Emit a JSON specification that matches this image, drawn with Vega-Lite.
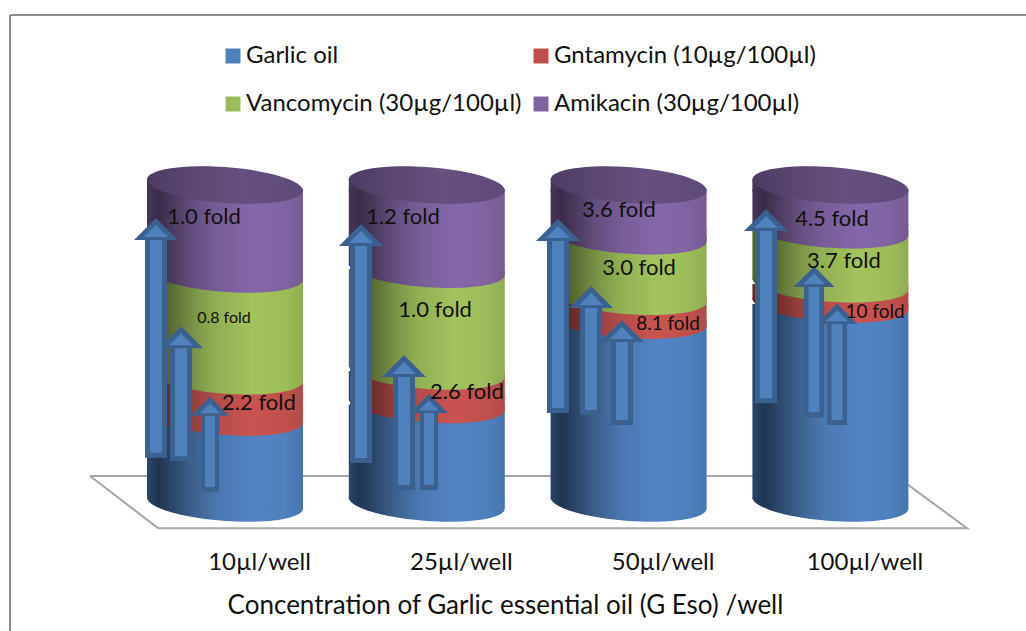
{
  "$schema": "https://vega.github.io/schema/vega-lite/v6.json",
  "width": 1016,
  "height": 616,
  "autosize": "none",
  "padding": {"left": 10, "top": 15, "right": 0, "bottom": 0},
  "background": "white",
  "config": {"view": {"stroke": null}, "font": "Lato"},
  "datasets": {
    "segments": [
      {"pos": 1, "agent": "Garlic oil", "stackOrder": 1, "share": 27},
      {"pos": 1, "agent": "Gntamycin (10µg/100µl)", "stackOrder": 2, "share": 13},
      {"pos": 1, "agent": "Vancomycin (30µg/100µl)", "stackOrder": 3, "share": 32},
      {"pos": 1, "agent": "Amikacin (30µg/100µl)", "stackOrder": 4, "share": 28},
      {"pos": 2, "agent": "Garlic oil", "stackOrder": 1, "share": 31},
      {"pos": 2, "agent": "Gntamycin (10µg/100µl)", "stackOrder": 2, "share": 10.5},
      {"pos": 2, "agent": "Vancomycin (30µg/100µl)", "stackOrder": 3, "share": 32},
      {"pos": 2, "agent": "Amikacin (30µg/100µl)", "stackOrder": 4, "share": 26.5},
      {"pos": 3, "agent": "Garlic oil", "stackOrder": 1, "share": 57.5},
      {"pos": 3, "agent": "Gntamycin (10µg/100µl)", "stackOrder": 2, "share": 7.5},
      {"pos": 3, "agent": "Vancomycin (30µg/100µl)", "stackOrder": 3, "share": 19},
      {"pos": 3, "agent": "Amikacin (30µg/100µl)", "stackOrder": 4, "share": 16},
      {"pos": 4, "agent": "Garlic oil", "stackOrder": 1, "share": 62.6},
      {"pos": 4, "agent": "Gntamycin (10µg/100µl)", "stackOrder": 2, "share": 6.3},
      {"pos": 4, "agent": "Vancomycin (30µg/100µl)", "stackOrder": 3, "share": 17},
      {"pos": 4, "agent": "Amikacin (30µg/100µl)", "stackOrder": 4, "share": 14.1}
    ],
    "arrows": [
      {"pos": 0.926, "from": 3.5, "to": 27.4, "kind": "narrow"},
      {"pos": 0.782, "from": 13.2, "to": 48.7, "kind": "wide"},
      {"pos": 0.658, "from": 14.2, "to": 82.7, "kind": "wide"},
      {"pos": 2.011, "from": 4.1, "to": 28.3, "kind": "narrow"},
      {"pos": 1.887, "from": 4.1, "to": 39.6, "kind": "wide"},
      {"pos": 1.674, "from": 12.6, "to": 80.8, "kind": "wide"},
      {"pos": 2.967, "from": 24.5, "to": 50.6, "kind": "wide"},
      {"pos": 2.814, "from": 27.7, "to": 61.3, "kind": "wide"},
      {"pos": 2.65, "from": 28.3, "to": 82.4, "kind": "wide"},
      {"pos": 4.033, "from": 24.5, "to": 56.3, "kind": "mid"},
      {"pos": 3.919, "from": 27, "to": 67.9, "kind": "mid"},
      {"pos": 3.681, "from": 31.4, "to": 85.5, "kind": "wide"}
    ],
    "foldLabels": [
      {"pos": 0.896, "level": 89.9, "label": "1.0 fold"},
      {"pos": 0.995, "level": 58.2, "label": "0.8 fold"},
      {"pos": 1.168, "level": 31.4, "label": "2.2 fold"},
      {"pos": 1.882, "level": 89.9, "label": "1.2 fold"},
      {"pos": 2.041, "level": 60.7, "label": "1.0 fold"},
      {"pos": 2.199, "level": 34.9, "label": "2.6 fold"},
      {"pos": 2.952, "level": 92.1, "label": "3.6 fold"},
      {"pos": 3.052, "level": 73.9, "label": "3.0 fold"},
      {"pos": 3.195, "level": 56.3, "label": "8.1 fold"},
      {"pos": 4.008, "level": 89.3, "label": "4.5 fold"},
      {"pos": 4.067, "level": 76.1, "label": "3.7 fold"},
      {"pos": 4.221, "level": 60.1, "label": "10 fold"}
    ],
    "floor": [
      {"vertex": 1, "pos": 0.331, "level": 8.5},
      {"vertex": 2, "pos": 0.668, "level": -7.9},
      {"vertex": 3, "pos": 4.677, "level": -7.9},
      {"vertex": 4, "pos": 4.325, "level": 8.5},
      {"vertex": 5, "pos": 0.331, "level": 8.5}
    ]
  },
  "encoding": {
    "x": {
      "field": "pos",
      "type": "quantitative",
      "scale": {"domain": [-0.0654, 4.9693], "nice": false, "zero": false, "padding": 0},
      "axis": {
        "orient": "bottom",
        "offset": -80,
        "values": [1, 2, 3, 4],
        "domain": false,
        "ticks": false,
        "grid": false,
        "labelExpr": "datum.value === 1 ? '10µl/well' : datum.value === 2 ? '25µl/well' : datum.value === 3 ? '50µl/well' : '100µl/well'",
        "labelFont": "Lato",
        "labelFontSize": 24,
        "labelColor": "#111111",
        "labelOffset": 34,
        "labelPadding": -1,
        "title": "Concentration of Garlic essential oil (G Eso) /well",
        "titleFont": "Lato",
        "titleFontSize": 26,
        "titleFontWeight": "normal",
        "titleColor": "#111111",
        "titleX": 495,
        "titleY": 54,
        "titleBaseline": "middle"
      }
    },
    "y": {"field": "level", "type": "quantitative", "scale": {"domain": [-40.25, 153.46], "nice": false, "zero": false}, "axis": null}
  },
  "layer": [
    {
      "data": {"name": "floor"},
      "mark": {"type": "line", "stroke": "#a6a6a6", "strokeWidth": 2},
      "encoding": {"order": {"field": "vertex", "type": "quantitative"}}
    },
    {
      "data": {"name": "floor"},
      "mark": {"type": "rule", "stroke": "#8c8c8c", "strokeWidth": 2},
      "encoding": {"x": {"datum": -0.0654, "type": "quantitative"}, "y": null}
    },
    {
      "data": {"name": "floor"},
      "mark": {"type": "rule", "stroke": "#8c8c8c", "strokeWidth": 2},
      "encoding": {"y": {"datum": 153.46, "type": "quantitative"}, "x": null}
    },
    {
      "data": {"name": "segments"},
      "transform": [
        {"stack": "share", "groupby": ["pos"], "sort": [{"field": "stackOrder", "order": "ascending"}], "as": ["low", "high"]}
      ],
      "layer": [
        {
          "transform": [{"filter": "datum.stackOrder === 0"}],
          "mark": {"type": "bar", "size": 156},
          "encoding": {
            "y": {"field": "high", "type": "quantitative"},
            "y2": {"field": "low"},
            "color": {
              "field": "agent",
              "type": "nominal",
              "scale": {
                "domain": ["Garlic oil", "Gntamycin (10µg/100µl)", "Vancomycin (30µg/100µl)", "Amikacin (30µg/100µl)"],
                "range": ["#4f81bd", "#c0504d", "#9bbb59", "#8064a2"]
              },
              "legend": {
                "orient": "none",
                "legendX": 211,
                "legendY": 29,
                "direction": "horizontal",
                "columns": 2,
                "title": null,
                "symbolType": "square",
                "symbolSize": 225,
                "symbolStrokeWidth": 0,
                "symbolOpacity": 1,
                "labelFont": "Lato",
                "labelFontSize": 24,
                "labelColor": "#111111",
                "labelLimit": 400,
                "labelOffset": 1,
                "rowPadding": 24,
                "columnPadding": 7
              }
            }
          }
        },
        {
          "transform": [{"filter": "datum.stackOrder === 1"}],
          "layer": [
            {
              "mark": {"type": "point", "filled": true, "opacity": 1, "size": 24336, "shape": "M-1,-.07C-1,.057 -.5523,.1913 0,.23C.5523,.2687 1,.197 1,.07L1,-.07Z", "fill": {"gradient": "linear", "x1": 0, "y1": 0, "x2": 1, "y2": 0, "stops": [{"offset": 0, "color": "#2b4569"}, {"offset": 0.07, "color": "#1f3551"}, {"offset": 0.3, "color": "#3d618f"}, {"offset": 0.45, "color": "#4a78b0"}, {"offset": 0.68, "color": "#5283c4"}, {"offset": 0.88, "color": "#4f81bd"}, {"offset": 1, "color": "#4675ae"}]}},
              "encoding": {"y": {"field": "low", "type": "quantitative"}}
            },
            {
              "mark": {"type": "bar", "size": 156, "y2Offset": -4, "fill": {"gradient": "linear", "x1": 0, "y1": 0, "x2": 1, "y2": 0, "stops": [{"offset": 0, "color": "#2b4569"}, {"offset": 0.07, "color": "#1f3551"}, {"offset": 0.3, "color": "#3d618f"}, {"offset": 0.45, "color": "#4a78b0"}, {"offset": 0.68, "color": "#5283c4"}, {"offset": 0.88, "color": "#4f81bd"}, {"offset": 1, "color": "#4675ae"}]}},
              "encoding": {"y": {"field": "high", "type": "quantitative"}, "y2": {"field": "low"}}
            }
          ]
        },
        {
          "transform": [{"filter": "datum.stackOrder === 2"}],
          "layer": [
            {
              "mark": {"type": "point", "filled": true, "opacity": 1, "size": 24336, "shape": "M-1,-.07C-1,.057 -.5523,.1913 0,.23C.5523,.2687 1,.197 1,.07L1,-.07Z", "fill": {"gradient": "linear", "x1": 0, "y1": 0, "x2": 1, "y2": 0, "stops": [{"offset": 0, "color": "#6a2c2b"}, {"offset": 0.07, "color": "#552120"}, {"offset": 0.3, "color": "#96403e"}, {"offset": 0.45, "color": "#b44c49"}, {"offset": 0.68, "color": "#ca5350"}, {"offset": 0.88, "color": "#c0504d"}, {"offset": 1, "color": "#b24a47"}]}},
              "encoding": {"y": {"field": "low", "type": "quantitative"}}
            },
            {
              "mark": {"type": "bar", "size": 156, "y2Offset": -4, "fill": {"gradient": "linear", "x1": 0, "y1": 0, "x2": 1, "y2": 0, "stops": [{"offset": 0, "color": "#6a2c2b"}, {"offset": 0.07, "color": "#552120"}, {"offset": 0.3, "color": "#96403e"}, {"offset": 0.45, "color": "#b44c49"}, {"offset": 0.68, "color": "#ca5350"}, {"offset": 0.88, "color": "#c0504d"}, {"offset": 1, "color": "#b24a47"}]}},
              "encoding": {"y": {"field": "high", "type": "quantitative"}, "y2": {"field": "low"}}
            }
          ]
        },
        {
          "transform": [{"filter": "datum.stackOrder === 3"}],
          "layer": [
            {
              "mark": {"type": "point", "filled": true, "opacity": 1, "size": 24336, "shape": "M-1,-.07C-1,.057 -.5523,.1913 0,.23C.5523,.2687 1,.197 1,.07L1,-.07Z", "fill": {"gradient": "linear", "x1": 0, "y1": 0, "x2": 1, "y2": 0, "stops": [{"offset": 0, "color": "#566832"}, {"offset": 0.07, "color": "#465428"}, {"offset": 0.3, "color": "#7a9446"}, {"offset": 0.45, "color": "#92b054"}, {"offset": 0.68, "color": "#a2c35d"}, {"offset": 0.88, "color": "#9dbd5a"}, {"offset": 1, "color": "#90ad52"}]}},
              "encoding": {"y": {"field": "low", "type": "quantitative"}}
            },
            {
              "mark": {"type": "bar", "size": 156, "y2Offset": -4, "fill": {"gradient": "linear", "x1": 0, "y1": 0, "x2": 1, "y2": 0, "stops": [{"offset": 0, "color": "#566832"}, {"offset": 0.07, "color": "#465428"}, {"offset": 0.3, "color": "#7a9446"}, {"offset": 0.45, "color": "#92b054"}, {"offset": 0.68, "color": "#a2c35d"}, {"offset": 0.88, "color": "#9dbd5a"}, {"offset": 1, "color": "#90ad52"}]}},
              "encoding": {"y": {"field": "high", "type": "quantitative"}, "y2": {"field": "low"}}
            }
          ]
        },
        {
          "transform": [{"filter": "datum.stackOrder === 4"}],
          "layer": [
            {
              "mark": {"type": "point", "filled": true, "opacity": 1, "size": 24336, "shape": "M-1,-.07C-1,.057 -.5523,.1913 0,.23C.5523,.2687 1,.197 1,.07L1,-.07Z", "fill": {"gradient": "linear", "x1": 0, "y1": 0, "x2": 1, "y2": 0, "stops": [{"offset": 0, "color": "#463758"}, {"offset": 0.07, "color": "#392c48"}, {"offset": 0.3, "color": "#654f80"}, {"offset": 0.45, "color": "#775d97"}, {"offset": 0.68, "color": "#8567a9"}, {"offset": 0.88, "color": "#8064a2"}, {"offset": 1, "color": "#755b95"}]}},
              "encoding": {"y": {"field": "low", "type": "quantitative"}}
            },
            {
              "mark": {"type": "bar", "size": 156, "yOffset": 4, "y2Offset": -4, "fill": {"gradient": "linear", "x1": 0, "y1": 0, "x2": 1, "y2": 0, "stops": [{"offset": 0, "color": "#463758"}, {"offset": 0.07, "color": "#392c48"}, {"offset": 0.3, "color": "#654f80"}, {"offset": 0.45, "color": "#775d97"}, {"offset": 0.68, "color": "#8567a9"}, {"offset": 0.88, "color": "#8064a2"}, {"offset": 1, "color": "#755b95"}]}},
              "encoding": {"y": {"field": "high", "type": "quantitative"}, "y2": {"field": "low"}}
            },
            {
              "mark": {"type": "point", "filled": true, "opacity": 1, "size": 24336, "shape": "M-1,-.07L1,.07L1,.08L-1,.08Z", "fill": {"gradient": "linear", "x1": 0, "y1": 0, "x2": 1, "y2": 0, "stops": [{"offset": 0, "color": "#463758"}, {"offset": 0.07, "color": "#392c48"}, {"offset": 0.3, "color": "#654f80"}, {"offset": 0.45, "color": "#775d97"}, {"offset": 0.68, "color": "#8567a9"}, {"offset": 0.88, "color": "#8064a2"}, {"offset": 1, "color": "#755b95"}]}},
              "encoding": {"y": {"field": "high", "type": "quantitative"}}
            },
            {
              "mark": {"type": "point", "filled": true, "opacity": 1, "size": 24336, "shape": "M1,.07C1,.197 .5523,.2687 0,.23C-.5523,.1913 -1,.057 -1,-.07C-1,-.197 -.5523,-.2687 0,-.23C.5523,-.1913 1,-.057 1,.07Z", "fill": {"gradient": "linear", "x1": 0, "y1": 0, "x2": 1, "y2": 0, "stops": [{"offset": 0, "color": "#4c3b62"}, {"offset": 0.3, "color": "#5c4872"}, {"offset": 0.6, "color": "#66507f"}, {"offset": 1, "color": "#5e4a78"}]}},
              "encoding": {"y": {"field": "high", "type": "quantitative"}}
            }
          ]
        }
      ]
    },
    {
      "data": {"name": "arrows"},
      "resolve": {"scale": {"size": "independent"}},
      "layer": [
        {
          "mark": {"type": "bar", "fill": "#3a6190"},
          "encoding": {
            "y": {"field": "to", "type": "quantitative"},
            "y2": {"field": "from"},
            "size": {"field": "kind", "type": "ordinal", "scale": {"domain": ["wide", "mid", "narrow"], "range": [22, 18, 15]}, "legend": null}
          }
        },
        {
          "mark": {"type": "point", "filled": true, "opacity": 1, "fill": "#3a6190", "shape": "M0,-1L1,0L-1,0Z"},
          "encoding": {
            "y": {"field": "to", "type": "quantitative"},
            "size": {"field": "kind", "type": "ordinal", "scale": {"domain": ["wide", "mid", "narrow"], "range": [1936, 1444, 1089]}, "legend": null}
          }
        },
        {
          "mark": {"type": "bar", "fill": "#4f81bd", "y2Offset": -5},
          "encoding": {
            "y": {"field": "to", "type": "quantitative"},
            "y2": {"field": "from"},
            "size": {"field": "kind", "type": "ordinal", "scale": {"domain": ["wide", "mid", "narrow"], "range": [12, 10, 6]}, "legend": null}
          }
        },
        {
          "mark": {"type": "point", "filled": true, "opacity": 1, "fill": "#4f81bd", "shape": "M0,-1.25L1,-.25L-1,-.25Z"},
          "encoding": {
            "y": {"field": "to", "type": "quantitative"},
            "size": {"field": "kind", "type": "ordinal", "scale": {"domain": ["wide", "mid", "narrow"], "range": [576, 400, 256]}, "legend": null}
          }
        }
      ]
    },
    {
      "data": {"name": "foldLabels"},
      "mark": {"type": "text", "font": "Lato", "baseline": "middle", "align": "center", "color": "#111111"},
      "encoding": {
        "text": {"field": "label"},
        "size": {
          "condition": [
            {"test": "datum.label === '0.8 fold'", "value": 16},
            {"test": "datum.label === '8.1 fold' || datum.label === '10 fold'", "value": 19}
          ],
          "value": 22
        }
      }
    }
  ]
}
